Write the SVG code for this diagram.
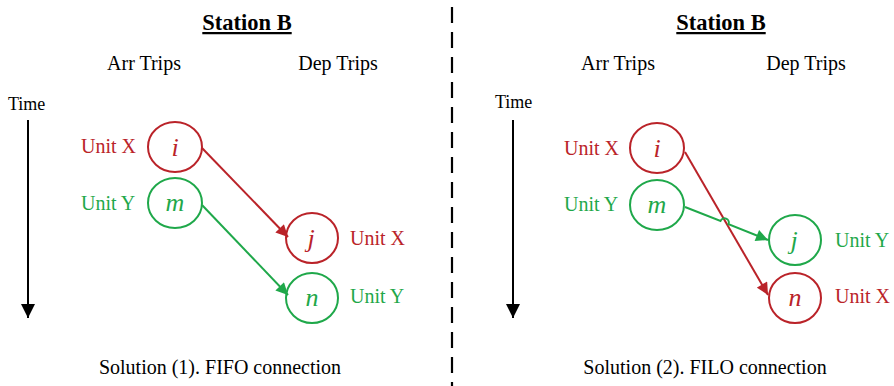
<svg xmlns="http://www.w3.org/2000/svg" width="894" height="386" viewBox="0 0 894 386">
  <style>
    text { font-family: "Liberation Serif", "Times New Roman", serif; fill: #000; }
    .title { font-size: 22.5px; font-weight: bold; text-anchor: middle; text-decoration: underline; }
    .head { font-size: 20px; text-anchor: middle; }
    .time { font-size: 18px; }
    .cap { font-size: 20px; text-anchor: middle; }
    .lbl { font-size: 20px; }
    .sym { font-size: 26px; font-style: italic; text-anchor: middle; }
    .red { fill: #BA2329; }
    .green { fill: #1FA84A; }
    .node-red { fill: #fff; stroke: #BA2329; stroke-width: 2; }
    .node-green { fill: #fff; stroke: #1FA84A; stroke-width: 2; }
    .edge-red { fill: none; stroke: #BA2329; stroke-width: 2; }
    .edge-green { fill: none; stroke: #1FA84A; stroke-width: 2; }
    .axis { stroke: #000; stroke-width: 2; }
  </style>
  <defs>
    <marker id="ah-red" viewBox="0 0 10 10" refX="10" refY="5" markerWidth="14" markerHeight="12" markerUnits="userSpaceOnUse" orient="auto">
      <path d="M0,0 L10,5 L0,10 z" fill="#BA2329"/>
    </marker>
    <marker id="ah-green" viewBox="0 0 10 10" refX="10" refY="5" markerWidth="14" markerHeight="12" markerUnits="userSpaceOnUse" orient="auto">
      <path d="M0,0 L10,5 L0,10 z" fill="#1FA84A"/>
    </marker>
    <marker id="ah-black" viewBox="0 0 10 10" refX="10" refY="5" markerWidth="16" markerHeight="14" markerUnits="userSpaceOnUse" orient="auto">
      <path d="M0,0 L10,5 L0,10 z" fill="#000"/>
    </marker>
  </defs>

  <!-- divider between the two solutions -->
  <line x1="452" y1="7" x2="452" y2="386" stroke="#000" stroke-width="2.2" stroke-dasharray="16 9"/>

  <!-- left panel: FIFO -->
  <g id="panel-fifo">
    <text class="title" x="247" y="30">Station B</text>
    <text class="head" x="144" y="70">Arr Trips</text>
    <text class="head" x="338" y="70">Dep Trips</text>
    <text class="time" x="8" y="110">Time</text>
    <line class="axis" x1="28" y1="120" x2="28" y2="318" marker-end="url(#ah-black)"/>
    <text class="cap" x="220" y="374">Solution (1). FIFO connection</text>
  </g>

  <g id="fifo-i">
    <ellipse class="node-red" cx="175" cy="147" rx="27" ry="25"/>
    <text class="sym red" x="175" y="156">i</text>
    <text class="lbl red" x="81" y="153">Unit X</text>
  </g>
  <g id="fifo-m">
    <ellipse class="node-green" cx="175" cy="203" rx="27" ry="25"/>
    <text class="sym green" x="175" y="211">m</text>
    <text class="lbl green" x="81" y="210">Unit Y</text>
  </g>
  <g id="fifo-j">
    <ellipse class="node-red" cx="312" cy="238" rx="26" ry="25"/>
    <text class="sym red" x="311" y="247">j</text>
    <text class="lbl red" x="350" y="245">Unit X</text>
  </g>
  <g id="fifo-n">
    <ellipse class="node-green" cx="312" cy="298" rx="26" ry="25"/>
    <text class="sym green" x="312" y="306">n</text>
    <text class="lbl green" x="350" y="303">Unit Y</text>
  </g>

  <g id="fifo-connectors">
    <line class="edge-red" x1="202" y1="148" x2="288" y2="237" marker-end="url(#ah-red)"/>
    <line class="edge-green" x1="202" y1="205" x2="288" y2="295" marker-end="url(#ah-green)"/>
  </g>

  <!-- right panel: FILO -->
  <g id="panel-filo">
    <text class="title" x="721" y="30">Station B</text>
    <text class="head" x="618" y="70">Arr Trips</text>
    <text class="head" x="806" y="70">Dep Trips</text>
    <text class="time" x="495" y="108">Time</text>
    <line class="axis" x1="513" y1="120" x2="513" y2="318" marker-end="url(#ah-black)"/>
    <text class="cap" x="705" y="374">Solution (2). FILO connection</text>
  </g>

  <g id="filo-i">
    <ellipse class="node-red" cx="657" cy="148" rx="27" ry="25"/>
    <text class="sym red" x="657" y="157">i</text>
    <text class="lbl red" x="564" y="155">Unit X</text>
  </g>
  <g id="filo-m">
    <ellipse class="node-green" cx="657" cy="205" rx="27" ry="25"/>
    <text class="sym green" x="657" y="213">m</text>
    <text class="lbl green" x="564" y="211">Unit Y</text>
  </g>
  <g id="filo-j">
    <ellipse class="node-green" cx="795" cy="240" rx="26" ry="25"/>
    <text class="sym green" x="794" y="249">j</text>
    <text class="lbl green" x="835" y="247">Unit Y</text>
  </g>
  <g id="filo-n">
    <ellipse class="node-red" cx="795" cy="298" rx="26" ry="25"/>
    <text class="sym red" x="795" y="306">n</text>
    <text class="lbl red" x="835" y="303">Unit X</text>
  </g>

  <g id="filo-connectors">
    <line class="edge-red" x1="685" y1="152" x2="768" y2="295" marker-end="url(#ah-red)"/>
    <!-- green link hops over the red one where they cross -->
    <path class="edge-green" d="M685,207 L720.5,221 A4.2,4.2 0 0 1 728.5,224.2 L768,240" marker-end="url(#ah-green)"/>
  </g>
</svg>
